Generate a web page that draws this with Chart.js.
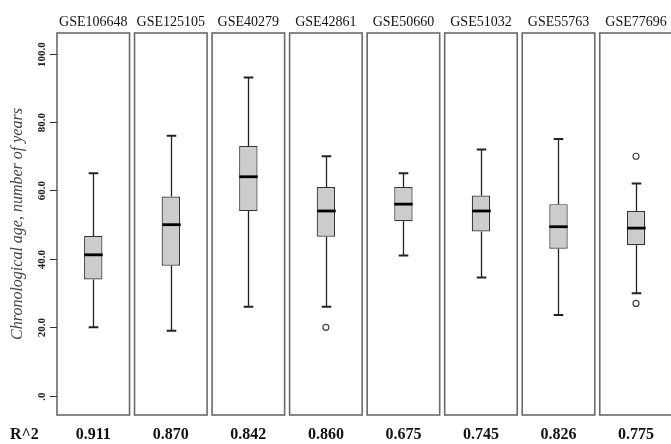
<!DOCTYPE html>
<html>
<head>
<meta charset="utf-8">
<script src="https://cdn.jsdelivr.net/npm/chart.js@4"></script>
<style>
  html, body { margin: 0; padding: 0; background: #fff; overflow: hidden; }
  #wrap { width: 680px; height: 444px; }
</style>
</head>
<body>
<div id="wrap"><canvas id="grafik" width="680" height="444"></canvas></div>
<script>
// data
const categories = ['GSE106648', 'GSE125105', 'GSE40279', 'GSE42861', 'GSE50660', 'GSE51032', 'GSE55763', 'GSE77696'];
const whiskerLow = [20, 19, 26, 26, 41, 34.6, 23.6, 30];
const q1 = [34, 38, 54, 46.5, 51, 48, 43, 44];
const median = [41.2, 50, 64, 54, 56, 54, 49.4, 49];
const q3 = [46.7, 58.2, 73, 61, 61, 58.5, 56, 54];
const whiskerHigh = [65, 76, 93, 70, 65, 72, 75, 62];
const outliers = [[], [], [], [20], [], [], [], [70, 27]];
const rSquared = ['0.911', '0.870', '0.842', '0.860', '0.675', '0.745', '0.826', '0.775'];
const yTicks = [0, 20, 40, 60, 80, 100];

const outlierPoints = [];
for (let i = 0; i < categories.length; i++) {
  for (const v of outliers[i]) outlierPoints.push({ x: categories[i], y: v });
}

const boxPlugin = {
  id: 'boxPlugin',
  beforeDatasetsDraw(chart) {
    const { ctx, chartArea, scales } = chart;
    const half = scales.x.width / categories.length / 2 - 2.5;
    ctx.save();
    ctx.strokeStyle = '#6a6a6a';
    ctx.lineWidth = 1.6;
    categories.forEach((c, i) => {
      const x = scales.x.getPixelForValue(i);
      ctx.strokeRect(x - half, chartArea.top, half * 2, chartArea.bottom - chartArea.top);
    });
    ctx.restore();
  },
  afterDatasetsDraw(chart) {
    const { ctx, scales } = chart;
    const x = scales.x, y = scales.y;
    ctx.save();
    categories.forEach((c, i) => {
      const cx = Math.round(x.getPixelForValue(i)) + 0.5;
      const cap = 4.8;
      ctx.strokeStyle = '#222';
      ctx.lineWidth = 1.3;
      ctx.beginPath();
      ctx.moveTo(cx, y.getPixelForValue(q3[i]));
      ctx.lineTo(cx, y.getPixelForValue(whiskerHigh[i]));
      ctx.moveTo(cx, y.getPixelForValue(q1[i]));
      ctx.lineTo(cx, y.getPixelForValue(whiskerLow[i]));
      ctx.stroke();
      ctx.lineWidth = 2;
      ctx.beginPath();
      ctx.moveTo(cx - cap, y.getPixelForValue(whiskerHigh[i]));
      ctx.lineTo(cx + cap, y.getPixelForValue(whiskerHigh[i]));
      ctx.moveTo(cx - cap, y.getPixelForValue(whiskerLow[i]));
      ctx.lineTo(cx + cap, y.getPixelForValue(whiskerLow[i]));
      ctx.stroke();
      // median
      const bw = 9.2;
      ctx.strokeStyle = '#000';
      ctx.lineWidth = 2.8;
      ctx.beginPath();
      ctx.moveTo(cx - bw, y.getPixelForValue(median[i]));
      ctx.lineTo(cx + bw, y.getPixelForValue(median[i]));
      ctx.stroke();
    });
    ctx.restore();
  },
  afterDraw(chart) {
    const { ctx, chartArea, scales } = chart;
    const x = scales.x, y = scales.y;
    const left = chartArea.left + 2.5;
    ctx.save();
    // titles
    ctx.fillStyle = '#111';
    ctx.textAlign = 'center';
    ctx.textBaseline = 'alphabetic';
    ctx.font = '14px "Liberation Serif", serif';
    categories.forEach((c, i) => ctx.fillText(c, x.getPixelForValue(i), 26));
    // R^2 row
    ctx.font = 'bold 16px "Liberation Serif", serif';
    rSquared.forEach((r, i) => ctx.fillText(r, x.getPixelForValue(i), 439));
    ctx.textAlign = 'left';
    ctx.fillText('R^2', 10, 439);
    // y ticks
    ctx.strokeStyle = '#333';
    ctx.lineWidth = 1;
    yTicks.forEach(v => {
      const py = Math.round(y.getPixelForValue(v)) + 0.5;
      ctx.beginPath();
      ctx.moveTo(left - 7, py);
      ctx.lineTo(left, py);
      ctx.stroke();
      ctx.save();
      ctx.translate(42.5, py);
      ctx.rotate(-Math.PI / 2);
      ctx.textAlign = 'center';
      ctx.textBaseline = 'middle';
      ctx.font = 'bold 11px "Liberation Serif", serif';
      ctx.fillStyle = '#222';
      ctx.fillText(v === 0 ? '.0' : v.toFixed(1), 0, 0);
      ctx.restore();
    });
    // y title
    ctx.save();
    ctx.translate(18, (chartArea.top + chartArea.bottom) / 2);
    ctx.rotate(-Math.PI / 2);
    ctx.textAlign = 'center';
    ctx.textBaseline = 'middle';
    ctx.font = 'italic 16px "Liberation Serif", serif';
    ctx.fillStyle = '#444';
    ctx.fillText('Chronological age, number of years', 0, 0);
    ctx.restore();
    ctx.restore();
  }
};

const ctx = document.getElementById('grafik').getContext('2d');

const chart = new Chart(ctx, {
  type: 'bar',
  data: {
    labels: categories,
    datasets: [{
      label: 'IQR',
      data: categories.map((c, i) => [q1[i], q3[i]]),
      backgroundColor: '#cccccc',
      borderColor: '#333',
      borderWidth: 1.2,
      borderSkipped: false,
      barPercentage: 0.237,
      categoryPercentage: 1
    }, {
      type: 'line',
      label: 'Outliers',
      data: outlierPoints,
      showLine: false,
      pointStyle: 'circle',
      pointRadius: 3,
      pointBackgroundColor: '#fff',
      pointBorderColor: '#444',
      pointBorderWidth: 1.2
    }]
  },
  options: {
    responsive: false,
    animation: false,
    layout: { padding: { left: 54.5, right: 3.5, top: 33, bottom: 29 } },
    plugins: { legend: { display: false }, tooltip: { enabled: false } },
    scales: {
      x: { display: false },
      y: { display: false, min: -5.6, max: 106 }
    }
  },
  plugins: [boxPlugin]
});
</script>
</body>
</html>
